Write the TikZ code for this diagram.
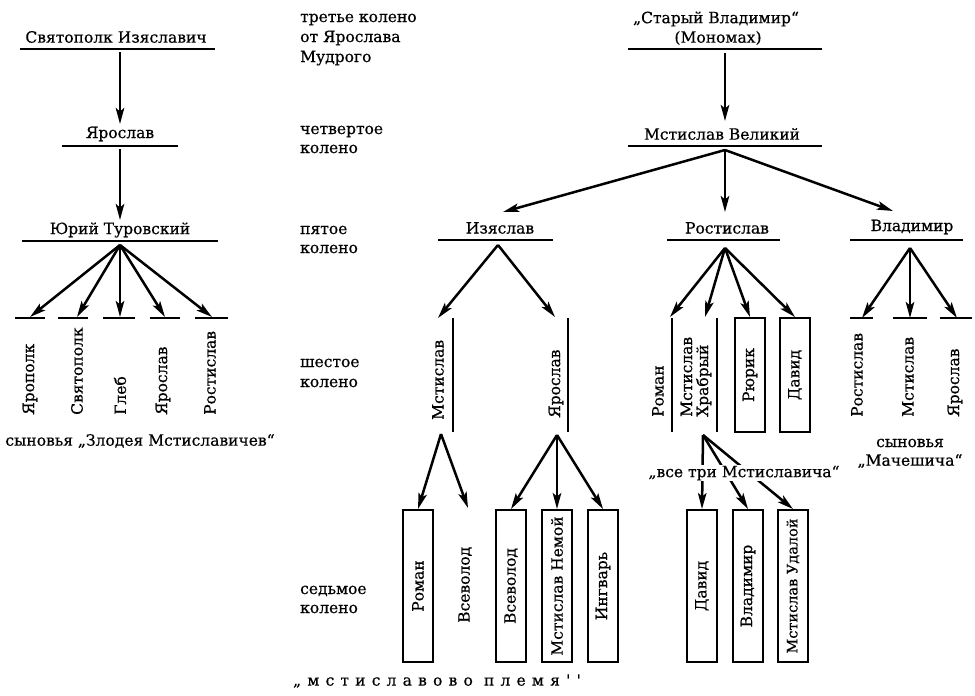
\documentclass[tikz,border=0pt]{standalone}
\usepackage{fontspec}
\setmainfont{DejaVu Serif}[FakeBold=0.6]
\newfontfamily\spacedfont[LetterSpace=40,FakeBold=0.6]{DejaVu Serif}
\usetikzlibrary{arrows.meta}
\begin{document}
\begin{tikzpicture}[x=1pt,y=-1pt,
  font=\fontsize{15.5}{18}\selectfont,
  every node/.style={inner sep=0pt},
  vname/.style={rotate=90, anchor=west},
  pbox/.style={draw, line width=1.9pt, rotate=90, minimum height=30pt},
  arr/.style={line width=2.5pt, -{Stealth[length=16pt,width=8.5pt,inset=3.5pt]}},
  uline/.style={line width=2.1pt},
  glabel/.style={anchor=base west}]
\useasboundingbox (0,0) rectangle (975,696);

% ---------- left column ----------
\node (svp) at (116,37) {Святополк Изяславич};
\draw[uline] (20,49) -- (215,49);
\node (yar1) at (120,134) {Ярослав};
\draw[uline] (62,146) -- (178,146);
\node (yur) at (120,230) {Юрий Туровский};
\draw[uline] (22,241) -- (218,241);
\coordinate (svpS) at (120,52);
\coordinate (yar1N) at (120,124);
\coordinate (yar1S) at (120,149);
\coordinate (yurN) at (120,220);
\coordinate (yurS) at (120,245);
\draw[arr] (svpS) -- (yar1N);
\draw[arr] (yar1S) -- (yurN);

\coordinate (t1) at (30,317);
\coordinate (t2) at (77,317);
\coordinate (t3) at (120,317);
\coordinate (t4) at (165,317);
\coordinate (t5) at (212,317);
\foreach \t in {t1,t2,t3,t4,t5} \draw[arr] (yurS) -- (\t);
\draw[uline] (15,318) -- (45,318);
\draw[uline] (58,318) -- (88,318);
\draw[uline] (103,318) -- (135,318);
\draw[uline] (150,318) -- (180,318);
\draw[uline] (195,318) -- (228,318);
\node[vname] (n1) at (30,415) {Ярополк};
\node[vname] (n2) at (77,415) {Святополк};
\node[vname] (n3) at (120,415) {Глеб};
\node[vname] (n4) at (163,415) {Ярослав};
\node[vname] (n5) at (210,415) {Ростислав};
\node (zlod) at (140,441) {сыновья „Злодея Мстиславичев“};

% ---------- generation labels ----------
\node[glabel] (g3a) at (300,22) {третье колено};
\node[glabel] (g3b) at (300,42) {от Ярослава};
\node[glabel] (g3c) at (300,62) {Мудрого};
\node[glabel] (g4a) at (300,134) {четвертое};
\node[glabel] (g4b) at (300,153) {колено};
\node[glabel] (g5a) at (300,234) {пятое};
\node[glabel] (g5b) at (300,253) {колено};
\node[glabel] (g6a) at (300,367) {шестое};
\node[glabel] (g6b) at (300,387) {колено};
\node[glabel] (g7a) at (300,594) {седьмое};
\node[glabel] (g7b) at (300,613) {колено};

% ---------- right: Monomakh line ----------
\node (mono1) at (716,19) {„Старый Владимир“};
\node (mono2) at (718,38) {(Мономах)};
\draw[uline] (628,49) -- (822,49);
\node (mvel) at (722,134) {Мстислав Великий};
\draw[uline] (628,146) -- (822,146);
\coordinate (monoS) at (725,53);
\coordinate (mvelN) at (725,121);
\coordinate (mvelS) at (725,150);
\draw[arr] (monoS) -- (mvelN);
\coordinate (izN) at (503,212);
\coordinate (roN) at (725,212);
\coordinate (vlN) at (893,211);
\draw[arr] (mvelS) -- (izN);
\draw[arr] (mvelS) -- (roN);
\draw[arr] (mvelS) -- (vlN);

\node (iz) at (500,228) {Изяслав};
\draw[uline] (438,240) -- (553,240);
\node (ro) at (727,228) {Ростислав};
\draw[uline] (667,240) -- (780,240);
\node (vl) at (912,227) {Владимир};
\draw[uline] (850,240) -- (963,240);

% ---------- Izyaslav branch ----------
\coordinate (izS) at (498,245);
\coordinate (ms6N) at (438,318);
\coordinate (ya6N) at (555,317);
\draw[arr] (izS) -- (ms6N);
\draw[arr] (izS) -- (ya6N);
\node[vname] (ms6) at (438,420) {Мстислав};
\draw[uline] (453,318) -- (453,432);
\node[vname] (ya6) at (556,418) {Ярослав};
\draw[uline] (568,318) -- (568,432);

\node[pbox, minimum width=152pt] (rom7) at (418,586) {Роман};
\node[vname] (vs7a) at (465,623) {Всеволод};
\node[pbox, minimum width=152pt] (vs7b) at (511,586) {Всеволод};
\node[pbox, minimum width=152pt] (nem7) at (557,586) {Мстислав Немой};
\node[pbox, minimum width=152pt] (ing7) at (603,586) {Ингварь};
\coordinate (ms6S) at (441,434);
\coordinate (ya6S) at (557,435);
\coordinate (vs7aN) at (468,508);
\draw[arr] (ms6S) -- (rom7.east);
\draw[arr] (ms6S) -- (vs7aN);
\draw[arr] (ya6S) -- (vs7b.east);
\draw[arr] (ya6S) -- (nem7.east);
\draw[arr] (ya6S) -- (ing7.east);

% ---------- Rostislav branch ----------
\coordinate (roS) at (725,248);
\coordinate (rm6N) at (670,317);
\coordinate (hr6N) at (705,317);
\node[vname] (rm6) at (658,417) {Роман};
\draw[uline] (672,318) -- (672,432);
\node[vname, align=left] (hr6) at (696,417) {Мстислав\\[-2pt]Храбрый};
\draw[uline] (717,318) -- (717,432);
\node[pbox, minimum width=114pt] (ryu6) at (750,375) {Рюрик};
\node[pbox, minimum width=114pt] (dav6) at (795,375) {Давид};
\draw[arr] (roS) -- (rm6N);
\draw[arr] (roS) -- (hr6N);
\draw[arr] (roS) -- (ryu6.east);
\draw[arr] (roS) -- (dav6.east);

\node[pbox, minimum width=152pt] (dav7) at (702,586) {Давид};
\node[pbox, minimum width=152pt] (vla7) at (748,586) {Владимир};
\node[pbox, minimum width=152pt] (uda7) at (793,586) {\fontsize{14.5}{16}\selectfont Мстислав Удалой};
\coordinate (hr6S) at (703,435);
\draw[arr] (hr6S) -- (dav7.east);
\draw[arr] (hr6S) -- (vla7.east);
\draw[arr] (hr6S) -- (uda7.east);
\node[fill=white, inner xsep=2pt, inner ysep=1pt] (vse) at (744,473) {„все три Мстиславича“};

% ---------- Vladimir branch ----------
\coordinate (vlS) at (910,248);
\coordinate (w1) at (862,318);
\coordinate (w2) at (910,318);
\coordinate (w3) at (957,318);
\draw[arr] (vlS) -- (w1);
\draw[arr] (vlS) -- (w2);
\draw[arr] (vlS) -- (w3);
\draw[uline] (850,318) -- (873,318);
\draw[uline] (893,318) -- (927,318);
\draw[uline] (940,318) -- (972,318);
\node[vname] (r7) at (857,417) {Ростислав};
\node[vname] (m7) at (908,417) {Мстислав};
\node[vname] (y7) at (955,417) {Ярослав};
\node (mach1) at (910,443) {сыновья};
\node (mach2) at (910,461) {„Мачешича“};

% ---------- bottom caption ----------
\node (plem) at (437,681) {\spacedfont\fontsize{15.5}{18}\selectfont „мстиславово племя''};
\end{tikzpicture}
\end{document}
